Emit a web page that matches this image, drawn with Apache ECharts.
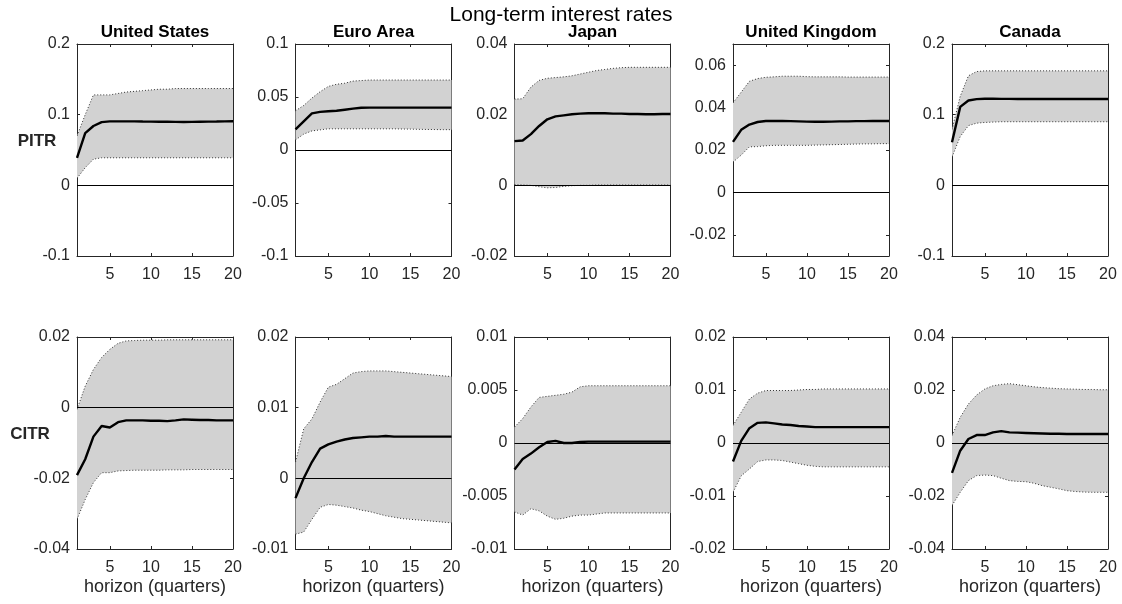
<!DOCTYPE html>
<html>
<head>
<meta charset="utf-8">
<script src="https://cdn.jsdelivr.net/npm/echarts@6/dist/echarts.min.js"></script>
<style>
html,body{margin:0;padding:0;background:#fff;}
#chart{width:1122px;height:604px;}
</style>
</head>
<body>
<div id="chart"></div>
<script>
// ---------------- DATA ----------------
const horizon = [1,2,3,4,5,6,7,8,9,10,11,12,13,14,15,16,17,18,19,20];
const countries = ['United States','Euro Area','Japan','United Kingdom','Canada'];
const rowNames = ['PITR','CITR'];
const mainTitle = 'Long-term interest rates';
const xName = 'horizon (quarters)';
const xTicks = [5,10,15,20];

// PITR (top row)
const US_PITR_med = [0.039,0.074,0.084,0.0895,0.0905,0.0905,0.0905,0.0905,0.0903,0.0902,0.09,0.09,0.0898,0.0897,0.0898,0.09,0.0902,0.0903,0.0905,0.0906];
const US_PITR_hi  = [0.07,0.1,0.128,0.128,0.128,0.13,0.132,0.133,0.134,0.135,0.136,0.136,0.137,0.137,0.137,0.137,0.137,0.137,0.137,0.137];
const US_PITR_lo  = [0.01,0.025,0.037,0.039,0.039,0.039,0.039,0.039,0.039,0.039,0.039,0.039,0.039,0.039,0.039,0.039,0.039,0.039,0.039,0.039];

const EA_PITR_med = [0.0195,0.027,0.0345,0.036,0.0365,0.037,0.038,0.039,0.0398,0.04,0.04,0.04,0.04,0.04,0.04,0.04,0.04,0.04,0.04,0.04];
const EA_PITR_hi  = [0.037,0.042,0.049,0.055,0.06,0.062,0.063,0.065,0.0655,0.066,0.066,0.066,0.066,0.066,0.066,0.066,0.066,0.066,0.066,0.066];
const EA_PITR_lo  = [0.0095,0.015,0.018,0.019,0.02,0.02,0.02,0.02,0.02,0.02,0.02,0.02,0.02,0.0198,0.0197,0.0195,0.0194,0.0193,0.0192,0.0192];

const JP_PITR_med = [0.0125,0.0127,0.0145,0.0168,0.0187,0.0195,0.0198,0.0201,0.0203,0.0204,0.0204,0.0204,0.0203,0.0203,0.0202,0.0202,0.0201,0.0201,0.0202,0.0202];
const JP_PITR_hi  = [0.0244,0.0245,0.0278,0.0297,0.0303,0.0305,0.0307,0.031,0.0315,0.032,0.0325,0.0328,0.0331,0.0333,0.0334,0.0334,0.0334,0.0334,0.0334,0.0334];
const JP_PITR_lo  = [0.0002,0.0001,0.0,-0.0004,-0.0007,-0.0006,-0.0003,-0.0001,0.0,0.0,0.0001,0.0001,0.0001,0.0001,0.0001,0.0001,0.0001,0.0001,0.0001,0.0001];

const UK_PITR_med = [0.0238,0.0295,0.032,0.0332,0.0337,0.0337,0.0337,0.0336,0.0335,0.0334,0.0333,0.0333,0.0334,0.0335,0.0335,0.0336,0.0336,0.0337,0.0337,0.0337];
const UK_PITR_hi  = [0.0422,0.0473,0.0524,0.0537,0.0543,0.0545,0.0548,0.0548,0.0548,0.0546,0.0545,0.0545,0.0545,0.0545,0.0544,0.0544,0.0544,0.0544,0.0544,0.0544];
const UK_PITR_lo  = [0.0143,0.0176,0.0215,0.0216,0.022,0.0222,0.0222,0.0222,0.0222,0.0222,0.0223,0.0224,0.0225,0.0226,0.0227,0.0228,0.0229,0.0229,0.023,0.023];

const CA_PITR_med = [0.061,0.111,0.12,0.122,0.1226,0.1225,0.1224,0.1223,0.1222,0.1222,0.1222,0.1222,0.1222,0.1222,0.1222,0.1222,0.1222,0.1222,0.1222,0.1222];
const CA_PITR_hi  = [0.079,0.126,0.155,0.161,0.162,0.162,0.162,0.162,0.162,0.162,0.162,0.162,0.162,0.162,0.162,0.162,0.162,0.162,0.162,0.162];
const CA_PITR_lo  = [0.04,0.069,0.0845,0.088,0.089,0.0895,0.09,0.09,0.09,0.09,0.09,0.09,0.09,0.09,0.09,0.09,0.09,0.09,0.09,0.09];

// CITR (bottom row)
const US_CITR_med = [-0.0191,-0.0146,-0.0082,-0.0052,-0.0056,-0.0041,-0.0036,-0.0036,-0.0036,-0.0037,-0.0037,-0.0038,-0.0036,-0.0033,-0.0034,-0.0035,-0.0035,-0.0036,-0.0036,-0.0036];
const US_CITR_hi  = [-0.0005,0.0061,0.0108,0.0142,0.0165,0.0182,0.0189,0.019,0.0191,0.0191,0.0191,0.0192,0.0192,0.0192,0.0192,0.0192,0.0192,0.0192,0.0192,0.0192];
const US_CITR_lo  = [-0.0316,-0.026,-0.0212,-0.0184,-0.0184,-0.0179,-0.0178,-0.0177,-0.0177,-0.0177,-0.0177,-0.0176,-0.0176,-0.0176,-0.0175,-0.0175,-0.0175,-0.0175,-0.0175,-0.0175];

const EA_CITR_med = [-0.0028,0.0,0.0023,0.0042,0.0048,0.0052,0.0055,0.0057,0.0058,0.0059,0.0059,0.006,0.0059,0.0059,0.0059,0.0059,0.0059,0.0059,0.0059,0.0059];
const EA_CITR_hi  = [0.0023,0.007,0.0084,0.0108,0.0129,0.0133,0.0141,0.0149,0.0151,0.0152,0.0152,0.0152,0.0151,0.015,0.0149,0.0148,0.0147,0.0146,0.0145,0.0144];
const EA_CITR_lo  = [-0.0079,-0.0076,-0.0058,-0.0041,-0.0037,-0.0038,-0.004,-0.0042,-0.0045,-0.0047,-0.005,-0.0053,-0.0055,-0.0057,-0.0058,-0.0059,-0.006,-0.0061,-0.0062,-0.0063];

const JP_CITR_med = [-0.0025,-0.0015,-0.001,-0.0004,0.0001,0.0002,0.0,0.0,0.0001,0.00013,0.00013,0.00013,0.00013,0.00013,0.00013,0.00013,0.00013,0.00013,0.00013,0.00013];
const JP_CITR_hi  = [0.0015,0.0023,0.0034,0.0043,0.0044,0.0045,0.0046,0.0048,0.0053,0.0054,0.0054,0.0054,0.0054,0.0054,0.0054,0.0054,0.0054,0.0054,0.0054,0.0054];
const JP_CITR_lo  = [-0.0065,-0.0068,-0.0062,-0.0064,-0.0069,-0.0072,-0.0071,-0.0069,-0.0068,-0.0068,-0.0067,-0.0066,-0.0066,-0.0066,-0.0066,-0.0066,-0.0066,-0.0066,-0.0066,-0.0066];

const UK_CITR_med = [-0.0035,0.0004,0.0028,0.0038,0.0039,0.0037,0.0035,0.0034,0.0032,0.0031,0.003,0.003,0.003,0.003,0.003,0.003,0.003,0.003,0.003,0.003];
const UK_CITR_hi  = [0.0033,0.0058,0.0083,0.0094,0.0099,0.0099,0.0099,0.0099,0.01,0.0101,0.0101,0.0102,0.0102,0.0102,0.0102,0.0102,0.0102,0.0102,0.0102,0.0102];
const UK_CITR_lo  = [-0.0093,-0.0062,-0.0049,-0.0035,-0.0032,-0.0032,-0.0033,-0.0036,-0.0039,-0.0042,-0.0044,-0.0045,-0.0045,-0.0045,-0.0045,-0.0045,-0.0045,-0.0045,-0.0045,-0.0045];

const CA_CITR_med = [-0.0113,-0.0029,0.0015,0.003,0.003,0.004,0.0045,0.004,0.0039,0.0038,0.0037,0.0036,0.0035,0.0035,0.0034,0.0034,0.0034,0.0034,0.0034,0.0034];
const CA_CITR_hi  = [0.0028,0.0097,0.0147,0.0181,0.0204,0.0216,0.0221,0.0224,0.022,0.0216,0.0212,0.0209,0.0207,0.0205,0.0204,0.0203,0.0202,0.0202,0.0201,0.0201];
const CA_CITR_lo  = [-0.0236,-0.0186,-0.0142,-0.0123,-0.0121,-0.0123,-0.0133,-0.0142,-0.0145,-0.0146,-0.0152,-0.0161,-0.0167,-0.0173,-0.018,-0.0183,-0.0185,-0.0186,-0.0186,-0.0186];

// y-axis ranges and tick labels
const US_PITR_yTicks = [-0.1,0,0.1,0.2];        const US_PITR_yRange = [-0.1,0.2];
const EA_PITR_yTicks = [-0.1,-0.05,0,0.05,0.1]; const EA_PITR_yRange = [-0.1,0.1];
const JP_PITR_yTicks = [-0.02,0,0.02,0.04];     const JP_PITR_yRange = [-0.02,0.04];
const UK_PITR_yTicks = [-0.02,0,0.02,0.04,0.06];const UK_PITR_yRange = [-0.03,0.07];
const CA_PITR_yTicks = [-0.1,0,0.1,0.2];        const CA_PITR_yRange = [-0.1,0.2];
const US_CITR_yTicks = [-0.04,-0.02,0,0.02];    const US_CITR_yRange = [-0.04,0.02];
const EA_CITR_yTicks = [-0.01,0,0.01,0.02];     const EA_CITR_yRange = [-0.01,0.02];
const JP_CITR_yTicks = [-0.01,-0.005,0,0.005,0.01]; const JP_CITR_yRange = [-0.01,0.01];
const UK_CITR_yTicks = [-0.02,-0.01,0,0.01,0.02];   const UK_CITR_yRange = [-0.02,0.02];
const CA_CITR_yTicks = [-0.04,-0.02,0,0.02,0.04];   const CA_CITR_yRange = [-0.04,0.04];

// ---------------- PANELS ----------------
const panels = [
  {row:0,col:0,med:US_PITR_med,hi:US_PITR_hi,lo:US_PITR_lo,ticks:US_PITR_yTicks,range:US_PITR_yRange},
  {row:0,col:1,med:EA_PITR_med,hi:EA_PITR_hi,lo:EA_PITR_lo,ticks:EA_PITR_yTicks,range:EA_PITR_yRange},
  {row:0,col:2,med:JP_PITR_med,hi:JP_PITR_hi,lo:JP_PITR_lo,ticks:JP_PITR_yTicks,range:JP_PITR_yRange},
  {row:0,col:3,med:UK_PITR_med,hi:UK_PITR_hi,lo:UK_PITR_lo,ticks:UK_PITR_yTicks,range:UK_PITR_yRange},
  {row:0,col:4,med:CA_PITR_med,hi:CA_PITR_hi,lo:CA_PITR_lo,ticks:CA_PITR_yTicks,range:CA_PITR_yRange},
  {row:1,col:0,med:US_CITR_med,hi:US_CITR_hi,lo:US_CITR_lo,ticks:US_CITR_yTicks,range:US_CITR_yRange},
  {row:1,col:1,med:EA_CITR_med,hi:EA_CITR_hi,lo:EA_CITR_lo,ticks:EA_CITR_yTicks,range:EA_CITR_yRange},
  {row:1,col:2,med:JP_CITR_med,hi:JP_CITR_hi,lo:JP_CITR_lo,ticks:JP_CITR_yTicks,range:JP_CITR_yRange},
  {row:1,col:3,med:UK_CITR_med,hi:UK_CITR_hi,lo:UK_CITR_lo,ticks:UK_CITR_yTicks,range:UK_CITR_yRange},
  {row:1,col:4,med:CA_CITR_med,hi:CA_CITR_hi,lo:CA_CITR_lo,ticks:CA_CITR_yTicks,range:CA_CITR_yRange}
];

// ---------------- LAYOUT / STYLE ----------------
const FONT = '"Liberation Sans", Arial, Helvetica, sans-serif';
const AXC = '#262626';
const gridLefts = [77, 295.5, 514.5, 733, 952];
const gridW = 156;
const gridTops = [44, 337];
const gridH = 212;

const grids = [], xAxes = [], yAxes = [], series = [];
const zip = (a, b) => a.map((v, i) => [v, b[i]]);

function bandRenderer(p) {
  return function (params, api) {
    if (params.dataIndex !== 0) return null;
    const up = horizon.map((h, k) => api.coord([h, p.hi[k]]));
    const dn = horizon.map((h, k) => api.coord([h, p.lo[k]]));
    const poly = up.concat(dn.slice().reverse());
    const edge = {stroke: '#333', lineWidth: 1, lineDash: [1, 2], fill: null};
    return {
      type: 'group',
      children: [
        {type: 'polygon', shape: {points: poly}, style: {fill: '#d2d2d2', stroke: null}},
        {type: 'polyline', shape: {points: up}, style: edge},
        {type: 'polyline', shape: {points: dn}, style: edge}
      ]
    };
  };
}

panels.forEach((p, i) => {
  grids.push({left: gridLefts[p.col], top: gridTops[p.row], width: gridW, height: gridH, containLabel: false});
  const baseX = {
    type: 'value', gridIndex: i, min: 1, max: 20,
    axisLine: {show: true, onZero: false, lineStyle: {color: AXC, width: 1}},
    axisTick: {show: true, inside: true, length: 3, customValues: xTicks, lineStyle: {color: AXC}},
    splitLine: {show: false}
  };
  xAxes.push(Object.assign({}, baseX, {
    position: 'bottom',
    axisLabel: {customValues: xTicks, fontFamily: FONT, fontSize: 16, color: AXC, margin: 11},
    name: p.row === 1 ? xName : '',
    nameLocation: 'middle', nameGap: 29,
    nameTextStyle: {fontFamily: FONT, fontSize: 18, color: AXC}
  }));
  xAxes.push(Object.assign({}, baseX, {position: 'top', axisLabel: {show: false}}));
  const baseY = {
    type: 'value', gridIndex: i, min: p.range[0], max: p.range[1],
    axisLine: {show: true, onZero: false, lineStyle: {color: AXC, width: 1}},
    axisTick: {show: true, inside: true, length: 3, customValues: p.ticks, lineStyle: {color: AXC}},
    splitLine: {show: false}
  };
  yAxes.push(Object.assign({}, baseY, {
    position: 'left',
    axisLabel: {customValues: p.ticks, fontFamily: FONT, fontSize: 16, color: AXC, margin: 7}
  }));
  yAxes.push(Object.assign({}, baseY, {position: 'right', axisLabel: {show: false}}));

  const xi = 2 * i, yi = 2 * i;
  series.push({
    type: 'custom', coordinateSystem: 'cartesian2d', xAxisIndex: xi, yAxisIndex: yi,
    data: horizon.map((h, k) => [h, p.lo[k], p.hi[k]]),
    encode: {x: 0, y: [1, 2]},
    renderItem: bandRenderer(p), silent: true, z: 1, clip: true
  });
  series.push({
    type: 'line', xAxisIndex: xi, yAxisIndex: yi,
    data: zip(horizon, p.med), symbol: 'none', silent: true, z: 3,
    lineStyle: {color: '#000', width: 2.4},
    markLine: {
      silent: true, symbol: ['none', 'none'], label: {show: false},
      lineStyle: {color: '#000', width: 1, type: 'solid'},
      data: [{yAxis: 0}], animation: false
    }
  });
});

const graphics = [
  {type: 'text', x: 561, y: 15, style: {text: mainTitle, font: '21px ' + FONT, fill: '#000', align: 'center', verticalAlign: 'middle'}}
];
countries.forEach((c, k) => {
  graphics.push({type: 'text', x: gridLefts[k] + gridW / 2, y: 32,
    style: {text: c, font: 'bold 17px ' + FONT, fill: '#000', align: 'center', verticalAlign: 'middle'}});
});
graphics.push({type: 'text', x: 37, y: 141, style: {text: rowNames[0], font: 'bold 17px ' + FONT, fill: '#262626', align: 'center', verticalAlign: 'middle'}});
graphics.push({type: 'text', x: 30, y: 434, style: {text: rowNames[1], font: 'bold 17px ' + FONT, fill: '#262626', align: 'center', verticalAlign: 'middle'}});

const chart = echarts.init(document.getElementById('chart'), null, {renderer: 'canvas'});
chart.setOption({
  backgroundColor: '#ffffff',
  animation: false,
  grid: grids,
  xAxis: xAxes,
  yAxis: yAxes,
  series: series,
  graphic: graphics
});
</script>
</body>
</html>
